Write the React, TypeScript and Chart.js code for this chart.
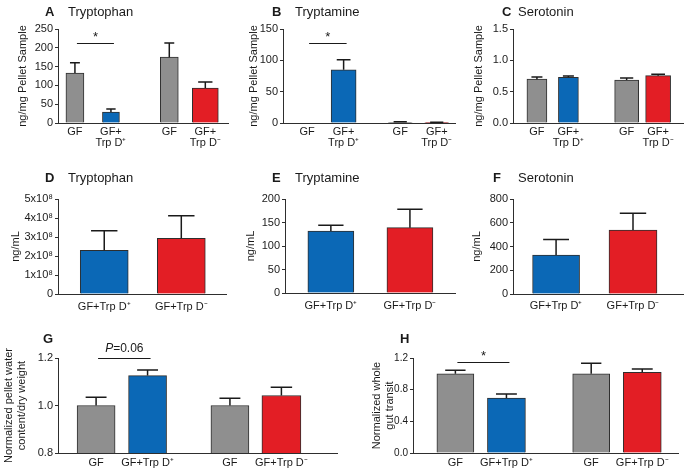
import React, { useEffect, useRef } from "react";
import { Chart, registerables } from "chart.js";

Chart.register(...registerables);

const FONT = "'Liberation Sans', Arial, Helvetica, sans-serif";
const INK = "#1a1a1a";
const AXIS = "#2e2e2e";
const GRAY = "#8f8f8f";
const BLUE = "#0b68b6";
const RED = "#e31e25";

// ---------------- data ----------------
const pelletCategories = [["GF"], ["GF+", "Trp D⁺"], ["GF"], ["GF+", "Trp D⁻"]];
const serumCategories = ["GF+Trp D⁺", "GF+Trp D⁻"];
const physiologyCategories = ["GF", "GF+Trp D⁺", "GF", "GF+Trp D⁻"];

const tryptophanPelletMean = [133, 29, 175, 93];
const tryptophanPelletSem = [27, 8, 38, 16];
const tryptophanPelletTicks = [0, 50, 100, 150, 200, 250];

const tryptaminePelletMean = [0, 85, 1.2, 0.6];
const tryptaminePelletSem = [0, 16, 0.8, 0.5];
const tryptaminePelletTicks = [0, 50, 100, 150];

const serotoninPelletMean = [0.7, 0.73, 0.685, 0.755];
const serotoninPelletSem = [0.035, 0.02, 0.035, 0.022];
const serotoninPelletTicks = [0, 0.5, 1.0, 1.5];

const tryptophanSerumMean = [2.3e8, 2.93e8];
const tryptophanSerumSem = [1.03e8, 1.19e8];
const tryptophanSerumTicks = [0, 1e8, 2e8, 3e8, 4e8, 5e8];

const tryptamineSerumMean = [132, 139];
const tryptamineSerumSem = [12, 39];
const tryptamineSerumTicks = [0, 50, 100, 150, 200];

const serotoninSerumMean = [328, 539];
const serotoninSerumSem = [132, 141];
const serotoninSerumTicks = [0, 200, 400, 600, 800];

const pelletWaterMean = [1.0, 1.126, 1.0, 1.042];
const pelletWaterSem = [0.035, 0.023, 0.031, 0.035];
const pelletWaterTicks = [0.8, 1.0, 1.2];

const gutTransitMean = [1.0, 0.695, 1.0, 1.02];
const gutTransitSem = [0.045, 0.05, 0.133, 0.04];
const gutTransitTicks = [0, 0.4, 0.8, 1.2];

const fourColors = [GRAY, BLUE, GRAY, RED];
const twoColors = [BLUE, RED];

// ---------------- panels ----------------
type Box = { x: number; y: number; w: number; h: number };
type Area = { l: number; t: number; r: number; b: number };
type Sig = { from: number; to: number; value: number; text: string };
type PanelCfg = {
  letter: string;
  name: string;
  labels: any[];
  mean: number[];
  sem: number[];
  colors: string[];
  ticks: number[];
  yMin: number;
  yMax: number;
  fmt: (v: number) => string;
  yTitle: string | string[];
  sig?: Sig;
  box: Box;
  area: Area;
  letterX: number;
  nameX: number;
  titleBase: number;
  yTitleX: number;
  xMin: number;
  xMax: number;
  gap: number;
  barW: number[];
  labelPad: number;
  tickSize: number;
};

const plain = (v: number) => String(v);
const oneDec = (v: number) => v.toFixed(1);
const sci8 = (v: number) => (v === 0 ? "0" : `${Math.round(v / 1e8)}x10⁸`);

const panels: PanelCfg[] = [
  {
    letter: "A", name: "Tryptophan", labels: pelletCategories,
    mean: tryptophanPelletMean, sem: tryptophanPelletSem, colors: fourColors,
    ticks: tryptophanPelletTicks, yMin: 0, yMax: 250, fmt: plain,
    yTitle: "ng/mg Pellet Sample", sig: { from: 0, to: 1, value: 213, text: "*" },
    box: { x: 0, y: 0, w: 230, h: 160 }, area: { l: 58, t: 29, r: 228, b: 123 },
    letterX: 45, nameX: 68, titleBase: 16, yTitleX: 23,
    xMin: -0.47, xMax: 4.25, gap: 0.62, barW: [18, 17, 18, 26], labelPad: 3, tickSize: 11,
  },
  {
    letter: "B", name: "Tryptamine", labels: pelletCategories,
    mean: tryptaminePelletMean, sem: tryptaminePelletSem, colors: fourColors,
    ticks: tryptaminePelletTicks, yMin: 0, yMax: 150, fmt: plain,
    yTitle: "ng/mg Pellet Sample", sig: { from: 0, to: 1, value: 128, text: "*" },
    box: { x: 230, y: 0, w: 230, h: 160 }, area: { l: 283, t: 29, r: 455, b: 123 },
    letterX: 272, nameX: 295, titleBase: 16, yTitleX: 254,
    xMin: -0.66, xMax: 4.05, gap: 0.55, barW: [24, 25, 24, 24], labelPad: 3, tickSize: 11,
  },
  {
    letter: "C", name: "Serotonin", labels: pelletCategories,
    mean: serotoninPelletMean, sem: serotoninPelletSem, colors: fourColors,
    ticks: serotoninPelletTicks, yMin: 0, yMax: 1.5, fmt: oneDec,
    yTitle: "ng/mg Pellet Sample",
    box: { x: 460, y: 0, w: 225, h: 160 }, area: { l: 513, t: 29, r: 683, b: 123 },
    letterX: 502, nameX: 518, titleBase: 16, yTitleX: 479,
    xMin: -0.76, xMax: 4.64, gap: 0.85, barW: [20, 20, 24, 25], labelPad: 3, tickSize: 11,
  },
  {
    letter: "D", name: "Tryptophan", labels: serumCategories,
    mean: tryptophanSerumMean, sem: tryptophanSerumSem, colors: twoColors,
    ticks: tryptophanSerumTicks, yMin: 0, yMax: 5e8, fmt: sci8,
    yTitle: "ng/mL",
    box: { x: 0, y: 160, w: 230, h: 160 }, area: { l: 58, t: 199, r: 226, b: 294 },
    letterX: 45, nameX: 68, titleBase: 182, yTitleX: 16,
    xMin: -0.6, xMax: 1.58, gap: 0, barW: [48, 48], labelPad: 7, tickSize: 11,
  },
  {
    letter: "E", name: "Tryptamine", labels: serumCategories,
    mean: tryptamineSerumMean, sem: tryptamineSerumSem, colors: twoColors,
    ticks: tryptamineSerumTicks, yMin: 0, yMax: 200, fmt: plain,
    yTitle: "ng/mL",
    box: { x: 230, y: 160, w: 230, h: 160 }, area: { l: 285, t: 199, r: 455, b: 293 },
    letterX: 272, nameX: 295, titleBase: 182, yTitleX: 251,
    xMin: -0.58, xMax: 1.57, gap: 0, barW: [46, 46], labelPad: 7, tickSize: 11,
  },
  {
    letter: "F", name: "Serotonin", labels: serumCategories,
    mean: serotoninSerumMean, sem: serotoninSerumSem, colors: twoColors,
    ticks: serotoninSerumTicks, yMin: 0, yMax: 800, fmt: plain,
    yTitle: "ng/mL",
    box: { x: 460, y: 160, w: 225, h: 160 }, area: { l: 513, t: 199, r: 683, b: 294 },
    letterX: 493, nameX: 518, titleBase: 182, yTitleX: 477,
    xMin: -0.56, xMax: 1.65, gap: 0, barW: [47, 48], labelPad: 6, tickSize: 11,
  },
  {
    letter: "G", name: "", labels: physiologyCategories,
    mean: pelletWaterMean, sem: pelletWaterSem, colors: fourColors,
    ticks: pelletWaterTicks, yMin: 0.8, yMax: 1.2, fmt: oneDec,
    yTitle: ["Normalized pellet water", "content/dry weight"],
    sig: { from: 0, to: 1, value: 1.2, text: "P=0.06" },
    box: { x: 0, y: 320, w: 345, h: 153 }, area: { l: 58, t: 358, r: 337, b: 453 },
    letterX: 43, nameX: 0, titleBase: 343, yTitleX: 9,
    xMin: -0.74, xMax: 4.68, gap: 0.6, barW: [38, 38, 38, 39], labelPad: 4, tickSize: 11,
  },
  {
    letter: "H", name: "", labels: physiologyCategories,
    mean: gutTransitMean, sem: gutTransitSem, colors: fourColors,
    ticks: gutTransitTicks, yMin: 0, yMax: 1.2, fmt: oneDec,
    yTitle: ["Normalized whole", "gut transit"],
    sig: { from: 0, to: 1, value: 1.145, text: "*" },
    box: { x: 345, y: 320, w: 340, h: 153 }, area: { l: 413, t: 358, r: 678, b: 453 },
    letterX: 400, nameX: 0, titleBase: 343, yTitleX: 377,
    xMin: -0.83, xMax: 4.36, gap: 0.66, barW: [37, 38, 37, 38], labelPad: 4, tickSize: 10,
  },
];

function barEl(chart: any, i: number) {
  return chart.getDatasetMeta(i).data[0];
}

function makeDecor(p: PanelCfg) {
  return {
    id: "decor" + p.letter,
    afterDatasetsDraw(chart: any) {
      const ctx = chart.ctx as CanvasRenderingContext2D;
      const ys = chart.scales.y;
      ctx.save();
      ctx.strokeStyle = INK;
      ctx.fillStyle = INK;
      ctx.lineWidth = 1.5;
      p.mean.forEach((m, i) => {
        const s = p.sem[i];
        if (!s) return;
        const x = barEl(chart, i).x;
        const y0 = ys.getPixelForValue(m);
        const y1 = ys.getPixelForValue(m + s);
        const cap = (p.barW[i] * 0.55) / 2;
        ctx.beginPath();
        ctx.moveTo(x, y0);
        ctx.lineTo(x, y1);
        ctx.moveTo(x - cap, y1);
        ctx.lineTo(x + cap, y1);
        ctx.stroke();
      });
      if (p.sig) {
        const x0 = barEl(chart, p.sig.from).x;
        const x1 = barEl(chart, p.sig.to).x;
        const y = Math.round(ys.getPixelForValue(p.sig.value)) + 0.5;
        ctx.lineWidth = 1;
        ctx.beginPath();
        ctx.moveTo(x0 + 2, y);
        ctx.lineTo(x1 + 3, y);
        ctx.stroke();
        const cx = (x0 + x1) / 2 + 2.5;
        ctx.textBaseline = "alphabetic";
        if (p.sig.text.startsWith("P")) {
          const rest = p.sig.text.slice(1);
          ctx.font = `italic 12px ${FONT}`;
          const wP = ctx.measureText("P").width;
          ctx.font = `12px ${FONT}`;
          const wR = ctx.measureText(rest).width;
          const start = cx - (wP + wR) / 2;
          ctx.textAlign = "left";
          ctx.font = `italic 12px ${FONT}`;
          ctx.fillText("P", start, y - 6.5);
          ctx.font = `12px ${FONT}`;
          ctx.fillText(rest, start + wP, y - 6.5);
        } else {
          ctx.font = `13px ${FONT}`;
          ctx.textAlign = "center";
          ctx.fillText(p.sig.text, cx, y - 2.5);
        }
      }
      ctx.restore();
    },
    afterDraw(chart: any) {
      const ctx = chart.ctx as CanvasRenderingContext2D;
      ctx.save();
      ctx.fillStyle = INK;
      ctx.textAlign = "left";
      ctx.textBaseline = "alphabetic";
      ctx.font = `bold 13px ${FONT}`;
      ctx.fillText(p.letter, p.letterX - p.box.x, p.titleBase - p.box.y);
      if (p.name) {
        ctx.font = `13px ${FONT}`;
        ctx.fillText(p.name, p.nameX - p.box.x, p.titleBase - p.box.y);
      }
      ctx.restore();
    },
  };
}

function Panel({ p }: { p: PanelCfg }) {
  const ref = useRef<HTMLCanvasElement | null>(null);
  useEffect(() => {
    if (!ref.current) return;
    const positions = p.mean.map((_, i) => i + (i >= 2 ? p.gap : 0));
    const titleLH = 1.15;
    const chart = new Chart(ref.current, {
      type: "bar",
      data: {
        datasets: p.mean.map(
          (v, i) =>
            ({
              data: [{ x: positions[i], y: v }],
              backgroundColor: p.colors[i],
              borderColor: AXIS,
              borderWidth: 1,
              barThickness: p.barW[i],
              grouped: false,
              borderSkipped: "bottom",
            } as any)
        ),
      },
      options: {
        responsive: false,
        animation: false,
        events: [],
        layout: {
          padding: {
            left: 0,
            top: p.area.t - p.box.y,
            right: p.box.x + p.box.w - p.area.r,
            bottom: 0,
          },
        },
        plugins: {
          legend: { display: false },
          tooltip: { enabled: false },
          title: { display: false },
        },
        scales: {
          x: {
            type: "linear",
            offset: false,
            min: p.xMin,
            max: p.xMax,
            grid: { display: false, drawTicks: false, offset: false },
            border: { display: true, color: AXIS, width: 1 },
            afterBuildTicks: (s: any) => {
              s.ticks = positions.map((v) => ({ value: v }));
            },
            afterFit: (s: any) => {
              s.height = p.box.y + p.box.h - p.area.b;
            },
            ticks: {
              autoSkip: false,
              maxRotation: 0,
              minRotation: 0,
              padding: p.labelPad,
              color: INK,
              font: { family: FONT, size: 11, lineHeight: 1.05 },
              callback: (_v: any, i: number) => p.labels[i],
            },
          },
          y: {
            type: "linear",
            min: p.yMin,
            max: p.yMax,
            grid: {
              display: true,
              drawOnChartArea: false,
              drawTicks: true,
              tickLength: 3,
              color: AXIS,
            },
            border: { display: true, color: AXIS, width: 1 },
            afterBuildTicks: (s: any) => {
              s.ticks = p.ticks.map((v) => ({ value: v }));
            },
            afterFit: (s: any) => {
              s.width = p.area.l - p.box.x;
            },
            ticks: {
              padding: 2,
              color: INK,
              font: { family: FONT, size: p.tickSize },
              callback: (v: any) => p.fmt(Number(v)),
            },
            title: {
              display: true,
              text: p.yTitle,
              color: INK,
              font: { family: FONT, size: 11, lineHeight: titleLH },
              padding: { top: p.yTitleX - p.box.x - (11 * titleLH) / 2, bottom: 0 },
            },
          },
        },
      } as any,
      plugins: [makeDecor(p)],
    });
    return () => chart.destroy();
  }, [p]);
  return (
    <canvas
      ref={ref}
      width={p.box.w}
      height={p.box.h}
      style={{
        position: "absolute",
        left: p.box.x,
        top: p.box.y,
        width: p.box.w,
        height: p.box.h,
      }}
    />
  );
}

export default function App() {
  return (
    <div
      style={{
        position: "absolute",
        left: 0,
        top: 0,
        width: 685,
        height: 473,
        background: "#ffffff",
        overflow: "hidden",
      }}
    >
      {panels.map((p) => (
        <Panel key={p.letter} p={p} />
      ))}
    </div>
  );
}
